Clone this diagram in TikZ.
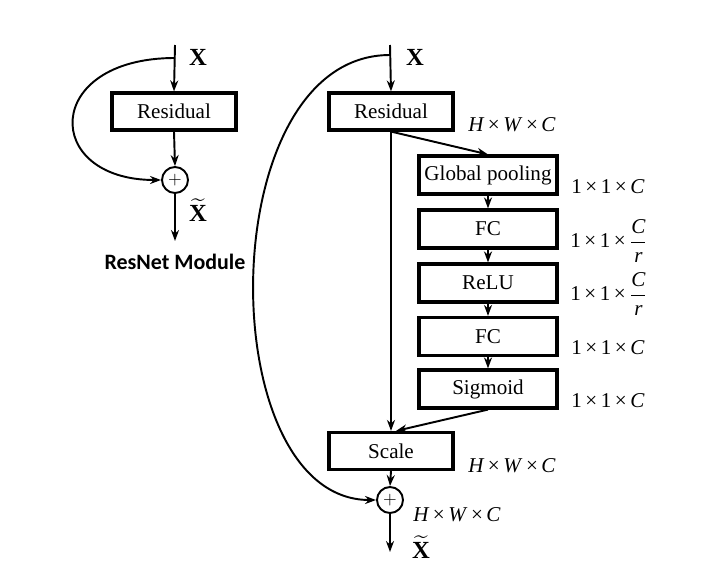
\documentclass[tikz,border=0pt]{standalone}
\usepackage{amsmath, amssymb}
\usepackage{fontspec}
\setmainfont{Liberation Serif}
\newfontfamily\labelfont{Carlito}
\usetikzlibrary{arrows.meta}
\tikzstyle{blk}=[draw=black, line width=1.8pt, minimum width=2.48cm, minimum height=0.74cm, inner sep=0pt, font=\fontsize{12}{14}\selectfont]
\tikzstyle{seblk}=[blk, minimum width=2.76cm, minimum height=0.76cm]
\tikzstyle{sum}=[circle, draw=black, line width=1.1pt, minimum size=0.52cm, inner sep=0pt]
\tikzstyle{dim}=[font=\fontsize{12}{14}\selectfont]
\tikzstyle{var}=[font=\fontsize{14}{16}\selectfont\bfseries]
\tikzstyle{conn}=[line width=1.1pt, -{Stealth[length=2.2mm, width=1.6mm]}]
\newcommand{\hwc}{\textit{H}\,×\,\textit{W}\,×\,\textit{C}}
\newcommand{\oc}{1\,×\,1\,×\,\textit{C}}
\newcommand{\ocr}{1\,×\,1\,×\,$\dfrac{\text{\itshape C}}{\text{\itshape r}}$}

\begin{document}
\begin{tikzpicture}[x=0.02cm, y=-0.02cm]
      \useasboundingbox (0,0) rectangle (720,568);

      % ResNet module
      \coordinate (in1) at (175,45);
      \coordinate (s1) at (175,58);
      \node[blk] (res1) at (174,111.5) {Residual};
      \node[sum] (p1) at (175,180) {$+$};
      \coordinate (out1) at (175,241);

      \node[var] (x1) at (198,57) {X};
      \node[var] (xt1) at (198,210) {$\widetilde{\text{X}}$};
      \node[font=\labelfont\bfseries\fontsize{12.5}{14}\selectfont] (cap) at (175,262) {ResNet Module};

      \draw[conn] (in1) -- (res1.north);
      \draw[conn] (res1.south) -- (p1.north);
      \draw[conn] (p1.south) -- (out1);
      \draw[conn] (s1) .. controls (42,58) and (42,180) .. (p1.west);

      % SE-ResNet module
      \coordinate (in2) at (390,45);
      \coordinate (s2) at (390,55);
      \node[blk] (res2) at (391,111.5) {Residual};
      \node[seblk] (gp) at (488,175) {Global pooling};
      \node[seblk] (fc1) at (488,229) {FC};
      \node[seblk] (relu) at (488,283) {ReLU};
      \node[seblk] (fc2) at (488,336.5) {FC};
      \node[seblk] (sig) at (488,389) {Sigmoid};
      \node[blk] (scale) at (391,451) {Scale};
      \node[sum] (p2) at (390,500) {$+$};
      \coordinate (out2) at (390,552);

      \node[var] (x2) at (415,57) {X};
      \node[var] (xt2) at (421,547) {$\widetilde{\text{X}}$};

      \node[dim] (d1) at (512,125) {\hwc};
      \node[dim] (d2) at (608,187) {\oc};
      \node[dim] (d3) at (609,241) {\ocr};
      \node[dim] (d4) at (609,294) {\ocr};
      \node[dim] (d5) at (608,348) {\oc};
      \node[dim] (d6) at (608,401) {\oc};
      \node[dim] (d7) at (512,466) {\hwc};
      \node[dim] (d8) at (457,515) {\hwc};

      \draw[conn] (in2) -- (res2.north);
      \draw[conn] (res2.south) -- (gp.north);
      \draw[conn] (gp) -- (fc1);
      \draw[conn] (fc1) -- (relu);
      \draw[conn] (relu) -- (fc2);
      \draw[conn] (fc2) -- (sig);
      \draw[conn] (sig.south) -- ([xshift=0.1cm]scale.north);
      \draw[conn] (res2.south) -- (scale.north);
      \draw[conn] (scale.south) -- (p2.north);
      \draw[conn] (p2.south) -- (out2);
      \draw[conn] (s2) .. controls (211,55) and (211,500) .. (p2.west);
    \end{tikzpicture}
\end{document}
